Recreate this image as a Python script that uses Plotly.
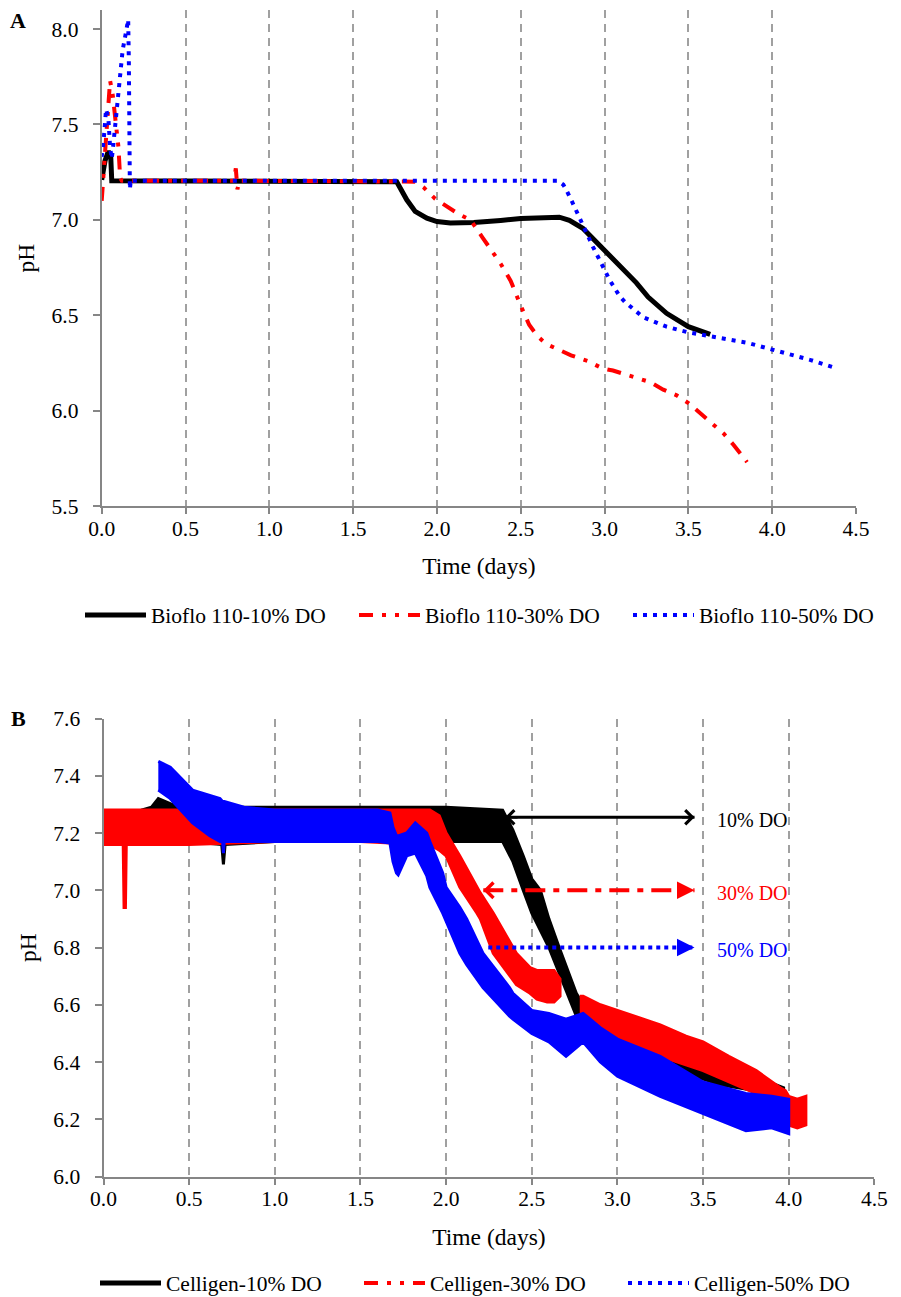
import plotly.graph_objects as go

# ---------------- Panel A data (Bioflo 110) ----------------
a10_t = [0.00, 0.02, 0.04, 0.054, 0.06, 0.50, 1.00, 1.50, 1.76, 1.82, 1.87, 1.94, 2.00, 2.08, 2.22, 2.38, 2.50,
         2.73, 2.79, 2.87, 2.95, 3.03, 3.11, 3.19, 3.26, 3.37, 3.50, 3.63]
a10_ph = [7.21, 7.31, 7.36, 7.33, 7.205, 7.205, 7.205, 7.205, 7.20, 7.105, 7.044, 7.009, 6.991, 6.983, 6.986, 6.997, 7.007,
          7.014, 6.997, 6.956, 6.886, 6.816, 6.746, 6.67, 6.595, 6.51, 6.44, 6.40]

a30_t = [0.00, 0.012, 0.025, 0.04, 0.05, 0.065, 0.08, 0.09, 0.10, 0.105, 0.11, 0.12, 0.50, 0.79, 0.80, 0.805, 0.81, 0.82,
         1.50, 1.87, 1.92, 1.99, 2.13, 2.20, 2.27, 2.33, 2.38, 2.44, 2.48, 2.50, 2.55, 2.60, 2.65, 2.70, 2.80, 2.90,
         2.99, 3.05, 3.19, 3.27, 3.35, 3.43, 3.50, 3.64, 3.71, 3.77, 3.85]
a30_ph = [7.10, 7.25, 7.45, 7.65, 7.73, 7.66, 7.55, 7.48, 7.38, 7.30, 7.22, 7.205, 7.205, 7.205, 7.27, 7.22, 7.16, 7.205,
          7.205, 7.20, 7.17, 7.11, 7.03, 7.00, 6.91, 6.83, 6.77, 6.68, 6.59, 6.55, 6.45, 6.39, 6.35, 6.33, 6.29, 6.26,
          6.22, 6.21, 6.17, 6.15, 6.11, 6.08, 6.04, 5.93, 5.88, 5.82, 5.73]

a50_t = [0.00, 0.012, 0.026, 0.04, 0.05, 0.06, 0.07, 0.08, 0.095, 0.11, 0.125, 0.14, 0.15, 0.158, 0.162, 0.165, 0.168,
         0.174, 0.18, 0.50, 1.00, 1.50, 2.00, 2.50, 2.72, 2.754, 2.77, 2.81, 2.85, 2.89, 2.93, 2.97, 3.03, 3.09, 3.12,
         3.23, 3.37, 3.50, 3.63, 3.77, 3.85, 4.00, 4.13, 4.23, 4.39]
a50_ph = [7.33, 7.42, 7.58, 7.53, 7.38, 7.32, 7.40, 7.49, 7.63, 7.79, 7.89, 7.96, 8.01, 8.05, 7.83, 7.44, 7.16,
          7.21, 7.205, 7.205, 7.205, 7.205, 7.205, 7.205, 7.205, 7.184, 7.16, 7.088, 7.01, 6.93, 6.86, 6.79, 6.685, 6.60, 6.571,
          6.49, 6.44, 6.41, 6.39, 6.367, 6.356, 6.32, 6.29, 6.265, 6.22]

# ---------------- Panel B data (Celligen) : noisy band envelopes ----------------
b10_t = [0.22, 0.28, 0.32, 0.40, 0.50, 0.69, 0.70, 0.71, 1.00, 1.50, 2.00, 2.33, 2.39, 2.45, 2.50, 2.55, 2.60, 2.66,
         2.72, 2.76, 2.80, 2.90, 3.00, 3.20, 3.40, 3.60, 3.80, 3.97]
b10_up = [7.28, 7.29, 7.32, 7.30, 7.30, 7.29, 7.29, 7.29, 7.29, 7.29, 7.29, 7.28, 7.21, 7.12, 7.04, 7.00, 6.90, 6.80,
          6.70, 6.64, 6.60, 6.56, 6.53, 6.47, 6.42, 6.38, 6.35, 6.31]
b10_lo = [7.17, 7.17, 7.17, 7.17, 7.17, 7.16, 7.09, 7.16, 7.17, 7.17, 7.17, 7.17, 7.10, 7.00, 6.92, 6.86, 6.80, 6.71,
          6.62, 6.56, 6.52, 6.49, 6.46, 6.41, 6.36, 6.32, 6.30, 6.28]

b30_t1 = [0.00, 0.115, 0.120, 0.128, 0.133, 0.50, 1.00, 1.50, 1.85, 1.905, 1.96, 2.00, 2.08, 2.18, 2.20, 2.275, 2.35,
          2.41, 2.49, 2.53, 2.59, 2.63, 2.665]
b30_up1 = [7.28, 7.28, 7.28, 7.28, 7.28, 7.28, 7.28, 7.28, 7.28, 7.28, 7.26, 7.20, 7.12, 7.01, 6.99, 6.92, 6.84,
           6.78, 6.73, 6.72, 6.72, 6.72, 6.69]
b30_lo1 = [7.16, 7.16, 6.94, 6.94, 7.16, 7.16, 7.17, 7.17, 7.16, 7.16, 7.14, 7.12, 7.01, 6.92, 6.90, 6.78, 6.72,
           6.67, 6.64, 6.62, 6.61, 6.61, 6.63]
b30_t2 = [2.78, 2.80, 2.90, 3.00, 3.10, 3.25, 3.40, 3.50, 3.65, 3.81, 3.95, 3.98, 4.00, 4.05, 4.10]
b30_up2 = [6.63, 6.63, 6.60, 6.58, 6.56, 6.53, 6.49, 6.47, 6.42, 6.37, 6.31, 6.30, 6.28, 6.27, 6.28]
b30_lo2 = [6.55, 6.55, 6.52, 6.49, 6.46, 6.42, 6.39, 6.37, 6.33, 6.29, 6.27, 6.22, 6.18, 6.17, 6.18]

b50_t = [0.32, 0.39, 0.52, 0.62, 0.68, 0.695, 0.70, 0.705, 0.82, 1.00, 1.30, 1.60, 1.672, 1.69, 1.71, 1.72, 1.77,
         1.82, 1.887, 1.905, 1.98, 2.00, 2.08, 2.12, 2.215, 2.37, 2.39, 2.50, 2.60, 2.70, 2.80, 2.90, 3.00, 3.25,
         3.50, 3.75, 3.90, 4.00]
b50_up = [7.45, 7.43, 7.35, 7.33, 7.32, 7.31, 7.31, 7.31, 7.29, 7.28, 7.28, 7.28, 7.27, 7.22, 7.19, 7.19, 7.20,
          7.235, 7.20, 7.17, 7.06, 7.01, 6.94, 6.90, 6.78, 6.66, 6.64, 6.58, 6.57, 6.55, 6.57, 6.52, 6.48, 6.42,
          6.33, 6.29, 6.28, 6.27]
b50_lo = [7.35, 7.32, 7.235, 7.19, 7.17, 7.17, 7.13, 7.17, 7.17, 7.17, 7.17, 7.17, 7.165, 7.10, 7.06, 7.054, 7.12,
          7.13, 7.05, 7.01, 6.92, 6.89, 6.78, 6.74, 6.66, 6.56, 6.55, 6.50, 6.47, 6.42, 6.47, 6.40, 6.35, 6.28,
          6.22, 6.16, 6.17, 6.15]

# arrows / labels in panel B
arrow_labels = ["10% DO", "30% DO", "50% DO"]
arrow_levels = [7.255, 7.0, 6.80]
arrow_start = [2.344, 2.217, 2.246]
arrow_end = 3.45
label_t = 3.79

names_a = ["Bioflo 110-10% DO", "Bioflo 110-30% DO", "Bioflo 110-50% DO"]
names_b = ["Celligen-10% DO", "Celligen-30% DO", "Celligen-50% DO"]

BLACK, RED, BLUE = "#000000", "#FF0000", "#0000FF"
FONT = "Liberation Serif"
DASH_RED = "14px,9px,4px,9px,4px,9px"
DASH_BLUE = "4px,6px"

W, H, OFF = 901, 1297, 8  # page body margin offsets the figure by 8px


def px_x(x):
    return (x - OFF) / W


def px_y(y):
    return 1 - (y - OFF) / H


fig = go.Figure()

# Panel A lines
fig.add_trace(go.Scatter(x=a10_t, y=a10_ph, mode="lines", name=names_a[0],
                         line=dict(color=BLACK, width=5), xaxis="x", yaxis="y", legend="legend"))
fig.add_trace(go.Scatter(x=a30_t, y=a30_ph, mode="lines", name=names_a[1],
                         line=dict(color=RED, width=4, dash=DASH_RED), xaxis="x", yaxis="y", legend="legend"))
fig.add_trace(go.Scatter(x=a50_t, y=a50_ph, mode="lines", name=names_a[2],
                         line=dict(color=BLUE, width=4, dash=DASH_BLUE), xaxis="x", yaxis="y", legend="legend"))


def band(t, up, lo, color):
    xs = list(t) + list(t)[::-1]
    ys = list(up) + list(lo)[::-1]
    return go.Scatter(x=xs, y=ys, mode="lines", fill="toself", fillcolor=color,
                      line=dict(color=color, width=3), xaxis="x2", yaxis="y2",
                      showlegend=False, hoverinfo="skip")


fig.add_trace(band(b10_t, b10_up, b10_lo, BLACK))
fig.add_trace(band(b30_t1, b30_up1, b30_lo1, RED))
fig.add_trace(band(b30_t2, b30_up2, b30_lo2, RED))
fig.add_trace(band(b50_t, b50_up, b50_lo, BLUE))

# legend entries for panel B
fig.add_trace(go.Scatter(x=[None], y=[None], mode="lines", name=names_b[0], line=dict(color=BLACK, width=5),
                         xaxis="x2", yaxis="y2", legend="legend2"))
fig.add_trace(go.Scatter(x=[None], y=[None], mode="lines", name=names_b[1], line=dict(color=RED, width=4, dash=DASH_RED),
                         xaxis="x2", yaxis="y2", legend="legend2"))
fig.add_trace(go.Scatter(x=[None], y=[None], mode="lines", name=names_b[2], line=dict(color=BLUE, width=4, dash=DASH_BLUE),
                         xaxis="x2", yaxis="y2", legend="legend2"))

AXCOL = "#868686"
tickfont = dict(family=FONT, size=21.5, color="black")
titlefont = dict(family=FONT, size=23.5, color="black")


def xax(domain, anchor):
    return dict(domain=domain, anchor=anchor, range=[0, 4.5], dtick=0.5, tick0=0, tickformat=".1f",
                showline=True, linecolor=AXCOL, linewidth=2, ticks="outside", ticklen=6, tickcolor=AXCOL,
                tickwidth=1.5, showgrid=True, gridcolor="#A0A0A0", gridwidth=1.5, griddash="8px,6px",
                zeroline=False, tickfont=tickfont, ticklabelstandoff=-4,
                title=dict(text="Time (days)", font=titlefont, standoff=18))


def yax(domain, anchor, rng, dtick):
    return dict(domain=domain, anchor=anchor, range=rng, dtick=dtick, tickformat=".1f",
                showline=True, linecolor=AXCOL, linewidth=2, ticks="outside", ticklen=7, tickcolor=AXCOL,
                tickwidth=1.5, showgrid=False, zeroline=False, tickfont=tickfont, ticklabelstandoff=10,
                title=dict(text="pH", font=titlefont, standoff=10))


layout = dict(
    width=W, height=H, margin=dict(l=0, r=0, t=0, b=0, autoexpand=False),
    paper_bgcolor="white", plot_bgcolor="white",
    font=dict(family=FONT, color="black"),
    xaxis=xax([px_x(101.7), px_x(856)], "y"),
    yaxis=yax([px_y(506), px_y(10)], "x", [5.5, 8.1], 0.5),
    xaxis2=xax([px_x(103.5), px_x(874.4)], "y2"),
    yaxis2=yax([px_y(1176.5), px_y(718.5)], "x2", [6.0, 7.6], 0.2),
    legend=dict(orientation="h", x=px_x(80), y=px_y(615), xanchor="left", yanchor="middle",
                font=dict(family=FONT, size=21.5, color="black"), entrywidth=198, entrywidthmode="pixels",
                itemwidth=61, bgcolor="rgba(0,0,0,0)"),
    legend2=dict(orientation="h", x=px_x(95), y=px_y(1283), xanchor="left", yanchor="middle",
                 font=dict(family=FONT, size=21.5, color="black"), entrywidth=188, entrywidthmode="pixels",
                 itemwidth=61, bgcolor="rgba(0,0,0,0)"),
)
fig.update_layout(**layout)

ann = [
    dict(text="<b>A</b>", x=px_x(18), y=px_y(20), xref="paper", yref="paper", showarrow=False,
         font=dict(family=FONT, size=22, color="black"), xanchor="center", yanchor="middle"),
    dict(text="<b>B</b>", x=px_x(18), y=px_y(718), xref="paper", yref="paper", showarrow=False,
         font=dict(family=FONT, size=22, color="black"), xanchor="center", yanchor="middle"),
]
colors = [BLACK, RED, BLUE]
dashes = ["solid", "20px,8px,6px,8px", "4px,4px"]
shapes = []
for i in range(3):
    lvl = arrow_levels[i]
    shapes.append(dict(type="line", xref="x2", yref="y2", x0=arrow_start[i], x1=arrow_end, y0=lvl, y1=lvl,
                       line=dict(color=colors[i], width=3 if i == 0 else 4, dash=dashes[i])))
    ann.append(dict(text=arrow_labels[i], x=label_t, y=lvl - 0.01, xref="x2", yref="y2", showarrow=False,
                    font=dict(family=FONT, size=20, color=colors[i]), xanchor="center", yanchor="middle"))


def head(x, y, dx, style, color, width, size):
    return dict(text="", x=x, y=y, ax=dx, ay=0, xref="x2", yref="y2", showarrow=True,
                arrowhead=style, arrowsize=size, arrowwidth=width, arrowcolor=color,
                font=dict(size=1))


ann.append(head(arrow_end, arrow_levels[0], -14, 4, BLACK, 2.5, 1.1))
ann.append(head(arrow_start[0], arrow_levels[0], 14, 4, BLACK, 2.5, 1.1))
ann.append(head(arrow_end, arrow_levels[1], -12, 2, RED, 3.5, 1.0))
ann.append(head(arrow_start[1], arrow_levels[1], 12, 4, RED, 3, 1.0))
ann.append(head(arrow_end, arrow_levels[2], -12, 2, BLUE, 3.5, 1.0))
fig.update_layout(annotations=ann, shapes=shapes)

fig.write_html("out.html")
